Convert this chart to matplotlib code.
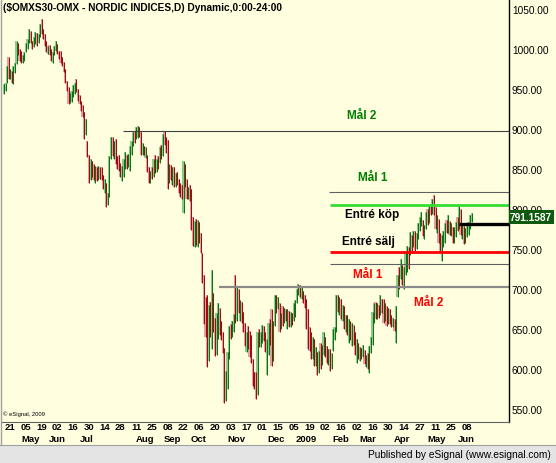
import numpy as np
import matplotlib
matplotlib.use("Agg")
import matplotlib.pyplot as plt
from matplotlib import transforms
from matplotlib.patches import Rectangle

plt.rcParams['font.family'] = ['Liberation Sans', 'DejaVu Sans']

# daily bars, OMXS30, mid April 2008 .. mid June 2009
highs = [
    956, 958, 979, 990, 975, 972, 979, 982, 1010, 1008,
    1000, 998, 992, 996, 1008, 1012, 1025, 1022, 1010, 1015,
    1021, 1020, 1019, 1031, 1037, 1025, 1019, 1010, 1004, 1005,
    1000, 996, 1004, 1010, 1006, 998, 998, 990, 984, 975,
    960, 952, 945, 948, 955, 958, 962, 950, 942, 935,
    930, 921, 912, 885, 868, 862, 860, 856, 854, 852,
    854, 852, 852, 842, 838, 833, 820, 866, 890, 890,
    885, 887, 866, 867, 858, 854, 862, 871, 868, 869,
    879, 885, 896, 898, 902, 904, 903, 896, 882, 879,
    877, 868, 852, 848, 852, 862, 867, 862, 866, 877,
    880, 894, 897, 890, 886, 856, 855, 852, 852, 845,
    846, 838, 832, 830, 860, 856, 838, 828, 830, 825,
    790, 785, 787, 786, 784, 770, 745, 718, 690, 692,
    680, 684, 724, 695, 664, 670, 683, 676, 660, 646,
    626, 598, 621, 654, 656, 660, 669, 717, 704, 700,
    686, 684, 671, 658, 646, 654, 648, 642, 612, 596,
    596, 646, 650, 646, 655, 654, 646, 637, 658, 662,
    675, 660, 692, 692, 690, 682, 670, 679, 676, 675,
    675, 672, 671, 670, 683, 686, 700, 706, 705, 704,
    698, 692, 688, 675, 652, 646, 640, 637, 628, 621,
    622, 633, 630, 646, 640, 629, 625, 625, 620, 650,
    652, 692, 692, 690, 687, 680, 679, 668, 667, 662,
    660, 658, 655, 646, 637, 632, 628, 626, 630, 624,
    618, 620, 629, 640, 671, 683, 684, 683, 680, 692,
    688, 687, 682, 679, 676, 675, 668, 664, 662, 679,
    717, 727, 737, 730, 728, 746, 754, 752, 771, 768,
    773, 772, 770, 783, 790, 796, 786, 780, 796, 800,
    804, 805, 812, 817, 802, 792, 787, 770, 767, 772,
    783, 786, 792, 785, 783, 778, 777, 784, 790, 804,
    800, 782, 779, 776, 782, 784, 792, 795,
]
lows = [
    944, 947, 958, 962, 962, 958, 956, 970, 981, 992,
    985, 983, 983, 985, 996, 1000, 1008, 1008, 1000, 1002,
    1006, 1004, 1008, 1015, 1019, 1012, 1004, 996, 994, 993,
    985, 983, 992, 998, 994, 988, 982, 979, 971, 958,
    948, 931, 933, 934, 940, 944, 946, 935, 931, 922,
    915, 887, 893, 865, 833, 836, 840, 836, 833, 835,
    836, 838, 836, 825, 820, 802, 805, 815, 862, 866,
    862, 856, 850, 848, 840, 835, 840, 850, 850, 852,
    848, 868, 879, 882, 887, 889, 890, 867, 868, 867,
    864, 846, 833, 832, 838, 840, 845, 846, 850, 858,
    862, 866, 880, 870, 825, 832, 836, 830, 827, 828,
    830, 820, 815, 812, 795, 828, 812, 812, 810, 774,
    754, 752, 755, 752, 758, 745, 708, 656, 640, 602,
    610, 640, 625, 646, 616, 618, 637, 642, 636, 620,
    558, 560, 575, 612, 638, 640, 646, 658, 660, 670,
    660, 658, 646, 629, 621, 625, 615, 608, 579, 575,
    562, 567, 628, 628, 632, 635, 621, 592, 617, 630,
    604, 610, 654, 670, 675, 646, 650, 654, 658, 660,
    650, 652, 652, 655, 660, 665, 682, 692, 690, 687,
    682, 676, 650, 625, 622, 612, 612, 604, 604, 592,
    595, 600, 605, 617, 615, 608, 605, 598, 600, 622,
    636, 646, 671, 668, 662, 660, 650, 646, 642, 633,
    636, 629, 630, 617, 608, 612, 610, 612, 615, 606,
    602, 600, 595, 620, 630, 658, 662, 662, 664, 667,
    670, 658, 660, 654, 656, 656, 652, 652, 648, 633,
    690, 700, 712, 705, 700, 718, 721, 725, 742, 745,
    752, 748, 750, 762, 772, 779, 766, 762, 775, 780,
    783, 792, 794, 792, 775, 770, 758, 745, 735, 752,
    758, 770, 770, 768, 766, 758, 758, 765, 772, 775,
    767, 762, 756, 758, 765, 768, 775, 784,
]
closes = [
    952, 955, 975, 967, 970, 962, 975, 978, 1006, 995,
    990, 986, 988, 994, 1005, 1008, 1020, 1010, 1004, 1012,
    1018, 1008, 1015, 1028, 1022, 1015, 1007, 999, 1000, 996,
    988, 992, 1002, 1006, 996, 990, 985, 982, 974, 960,
    952, 936, 940, 944, 952, 955, 948, 938, 934, 926,
    918, 890, 908, 870, 836, 857, 846, 840, 850, 838,
    850, 842, 840, 828, 832, 806, 815, 862, 884, 870,
    880, 860, 856, 852, 845, 850, 858, 866, 856, 864,
    875, 880, 892, 886, 898, 900, 894, 872, 876, 870,
    874, 848, 838, 845, 842, 858, 850, 858, 854, 873,
    866, 890, 884, 876, 830, 850, 840, 846, 832, 840,
    834, 824, 822, 815, 855, 832, 818, 824, 815, 778,
    760, 778, 762, 782, 765, 748, 712, 662, 650, 608,
    672, 650, 690, 655, 620, 665, 678, 648, 640, 625,
    565, 592, 615, 648, 645, 652, 665, 660, 698, 675,
    680, 662, 650, 634, 640, 630, 620, 612, 584, 580,
    570, 640, 635, 640, 645, 638, 625, 632, 650, 640,
    612, 655, 688, 675, 682, 652, 665, 660, 672, 664,
    668, 656, 666, 660, 678, 682, 697, 702, 695, 700,
    688, 680, 656, 632, 628, 618, 632, 610, 620, 598,
    615, 606, 625, 640, 620, 612, 620, 604, 615, 645,
    648, 686, 675, 684, 668, 676, 655, 660, 648, 655,
    640, 650, 635, 622, 630, 615, 620, 616, 626, 610,
    614, 606, 625, 636, 665, 676, 670, 678, 672, 686,
    675, 665, 676, 660, 670, 662, 656, 660, 652, 675,
    712, 706, 730, 715, 722, 740, 750, 732, 766, 750,
    768, 755, 765, 780, 786, 790, 770, 775, 792, 784,
    800, 798, 806, 795, 778, 784, 762, 750, 762, 768,
    778, 774, 775, 772, 780, 762, 768, 780, 776, 778,
    770, 775, 760, 770, 772, 780, 788, 791.1587,
]

# date axis labels, one every ten bars starting at bar 4 (21 Apr 2008)
day_labels = ['21', '05', '19', '02', '16', '30', '14', '28', '11', '25',
              '08', '22', '06', '20', '03', '17', '01', '15', '05', '19',
              '02', '16', '02', '16', '30', '14', '27', '11', '25', '08']
month_labels = ['May', 'Jun', 'Jul', 'Aug', 'Sep', 'Oct', 'Nov', 'Dec',
                '2009', 'Feb', 'Mar', 'Apr', 'May', 'Jun']
month_pos = [17.3, 33.8, 52.9, 89.7, 106.9, 124, 148, 172.9,
             192, 214, 231, 253, 275, 293.5]

price_ticks = [550, 600, 650, 700, 750, 800, 850, 900, 950, 1000, 1050]

# drawn levels: price, first bar
level_prices = [897.5, 821, 805, 781, 746, 731, 702]
level_start = [75.8, 206.5, 207, 289, 207, 207, 136.7]
level_colors = ['#404040', '#606060', '#33dd33', '#000000', '#ff0000', '#606060', '#8a8a8a']
level_widths = [0.8, 0.8, 2.0, 2.4, 2.0, 0.8, 1.6]

# target labels: text, colour
notes = [('Mål 2', '#008000', 227.5, 917.5),
         ('Mål 1', '#008000', 234.5, 840),
         ('Entré köp', '#000000', 234, 793.5),
         ('Entré sälj', '#000000', 231.3, 760),
         ('Mål 1', '#ff0000', 231.3, 719),
         ('Mål 2', '#ff0000', 270, 684)]

W, H = 556, 464
bg = '#ffffe0'

fig = plt.figure(figsize=(W / 100, H / 100), dpi=100)
fig.patch.set_facecolor(bg)
ax = fig.add_axes([2 / W, 41 / H, 507 / W, 423 / H])
ax.set_facecolor(bg)
ax.set_xlim(-1.08, 320.8)
ax.set_ylim(533.75, 1062.5)

x = np.arange(len(closes))
c = np.array(closes, dtype=float)
o = np.r_[c[0], c[:-1]]
up = c >= o
halo = np.where(up, '#8fc88f', '#dea0a0')
core = np.where(up, '#0a6e0a', '#9a0a0a')
ax.vlines(x, lows, highs, colors=halo, linewidth=1.5)
ax.vlines(x + 0.15, lows, highs, colors=core, linewidth=0.7)

xmax = ax.get_xlim()[1]
for p, s, col, lw in zip(level_prices, level_start, level_colors, level_widths):
    ax.hlines(p, s, xmax, colors=col, linewidth=lw)

for txt, col, tx, ty in notes:
    ax.text(tx, ty, txt, color=col, fontsize=8.5, fontweight='bold',
            ha='center', va='center')

for s in ['top', 'left']:
    ax.spines[s].set_visible(False)
ax.spines['right'].set_color('black')
ax.spines['bottom'].set_color('#606060')
ax.spines['right'].set_linewidth(1.0)

ax.yaxis.tick_right()
ax.set_yticks(price_ticks)
ax.set_yticklabels(['%.2f' % v for v in price_ticks])
ax.tick_params(axis='y', length=0, pad=2, labelsize=7.3, labelcolor='black')
ax.set_xticks([])

trans = transforms.blended_transform_factory(ax.transData, fig.transFigure)
for k, lab in enumerate(day_labels):
    fig.text(4 + 10 * k, 1 - 428 / H, lab, transform=trans, fontsize=6.8,
             fontweight='bold', ha='center', va='center')
for pos, lab in zip(month_pos, month_labels):
    fig.text(pos, 1 - 440 / H, lab, transform=trans, fontsize=6.8,
             fontweight='bold', ha='center', va='center')

# bottom strip
fig.patches.append(Rectangle((0, 0), 1, 18 / H, transform=fig.transFigure,
                             facecolor='#e4e4e4', edgecolor='none'))
fig.lines.append(plt.Line2D([0, 1], [18 / H, 18 / H], transform=fig.transFigure,
                            color='#a0a0a0', linewidth=0.8))
fig.lines.append(plt.Line2D([0.5 / W, 0.5 / W], [18 / H, 1], transform=fig.transFigure,
                            color='#a0a0a0', linewidth=1.0))
fig.text(551 / W, 1 - 455 / H, 'Published by eSignal (www.esignal.com)',
         fontsize=7.3, ha='right', va='center')
fig.text(3 / W, 1 - 414 / H, '© eSignal, 2009', fontsize=4.2, va='center')

fig.text(3 / W, 1 - 8 / H, '($OMXS30-OMX - NORDIC INDICES,D) Dynamic,0:00-24:00',
         fontsize=7.3, fontweight='bold', va='center')

# last price box
fig.patches.append(Rectangle((509 / W, 1 - 225 / H), 45 / W, 14 / H,
                             transform=fig.transFigure, facecolor='#0e5a0e',
                             edgecolor='none'))
fig.text(531 / W, 1 - 218 / H, '%.4f' % closes[-1], color='white', fontsize=7.3,
         fontweight='bold', ha='center', va='center')

fig.savefig('out.png', dpi=100, facecolor=bg)
